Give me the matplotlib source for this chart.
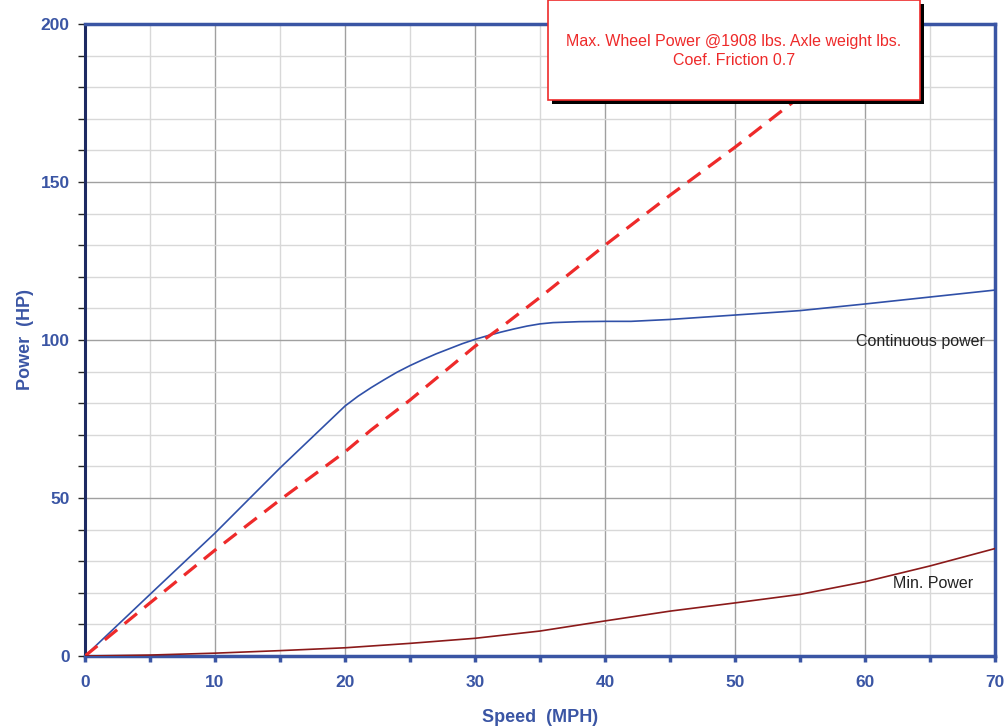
import matplotlib
matplotlib.use("Agg")
import matplotlib.pyplot as plt
from matplotlib.patches import Rectangle
from matplotlib.ticker import MultipleLocator

plt.rcParams["font.family"] = ["Liberation Sans", "DejaVu Sans"]

# Continuous power curve (HP vs MPH)
speed_cont = [0, 5, 10, 15, 20, 21, 22, 23, 24, 25, 26, 27, 28, 29, 30, 31, 32, 33, 34,
              35, 36, 38, 40, 42, 45, 50, 55, 60, 65, 70]
power_cont = [0, 19.5, 38.9, 59.5, 79.1, 82.2, 84.9, 87.4, 89.8, 91.9, 93.8, 95.6, 97.2,
              98.8, 100.2, 101.4, 102.5, 103.5, 104.4, 105.1, 105.5, 105.8, 105.9, 105.9,
              106.5, 107.9, 109.3, 111.4, 113.6, 115.8]

# Max wheel power (traction limit)
speed_max = [0, 5, 10, 15, 20, 22, 25, 30, 32, 35, 40, 45, 50, 55, 62]
power_max = [0, 16.8, 33.5, 49.4, 64.6, 71.5, 81.0, 98.0, 104.0, 113.5, 130.0, 145.8,
             161.0, 177.0, 200.0]

# Minimum power curve
speed_min = [0, 5, 10, 15, 20, 25, 30, 35, 40, 45, 50, 55, 60, 65, 70]
power_min = [0, 0.3, 0.9, 1.7, 2.6, 4.0, 5.6, 7.9, 11.1, 14.2, 16.8, 19.5, 23.5, 28.5, 34.0]

BLUE = "#3a55a4"
NAVY = "#1e2a62"

fig = plt.figure(figsize=(10.08, 7.27), dpi=100)
ax = fig.add_axes([85 / 1008, 71 / 727, 910 / 1008, 632 / 727])

ax.plot(speed_cont, power_cont, color="#3050a8", lw=1.2, zorder=3)
ax.plot(speed_max, power_max, color="#ee2a2a", lw=2.3, dashes=(5, 3), zorder=3)
ax.plot(speed_min, power_min, color="#8b1a1a", lw=1.2, zorder=3)

ax.set_xlim(0, 70)
ax.set_ylim(0, 200)
ax.xaxis.set_major_locator(MultipleLocator(10))
ax.xaxis.set_minor_locator(MultipleLocator(5))
ax.yaxis.set_major_locator(MultipleLocator(50))
ax.yaxis.set_minor_locator(MultipleLocator(10))

ax.grid(which="major", color="#a0a0a0", lw=1.0, zorder=0)
ax.grid(which="minor", color="#d8d8d8", lw=1.0, zorder=0)
ax.set_axisbelow(True)

for side in ["top", "right", "bottom"]:
    ax.spines[side].set_color(BLUE)
    ax.spines[side].set_linewidth(2.5)
ax.spines["left"].set_color(NAVY)
ax.spines["left"].set_linewidth(2.2)

ax.tick_params(axis="x", which="both", direction="out", length=4, width=2.5,
               color=BLUE, labelcolor=BLUE, pad=10, labelsize=12.5)
ax.tick_params(axis="y", which="both", direction="out", length=5, width=1,
               color="#222222", labelcolor=BLUE, pad=6, labelsize=12.5)
for lbl in ax.get_xticklabels() + ax.get_yticklabels():
    lbl.set_fontweight("bold")

ax.set_xlabel("Speed  (MPH)", color=BLUE, fontsize=13, fontweight="bold", labelpad=13)
ax.set_ylabel("Power  (HP)", color=BLUE, fontsize=13, fontweight="bold", labelpad=5)

ax.text(64.3, 99.4, "Continuous power", color="#222222", fontsize=11.5,
        ha="center", va="center", zorder=4)
ax.text(65.2, 22.8, "Min. Power", color="#222222", fontsize=11.5,
        ha="center", va="center", zorder=4)

# annotation box with drop shadow, in figure pixels
bx, by, bw, bh = 548, 627, 372, 100
fig.patches.append(Rectangle(((bx + 4) / 1008, (by - 4) / 727), bw / 1008, bh / 727,
                             transform=fig.transFigure, facecolor="black",
                             edgecolor="none", zorder=5))
fig.patches.append(Rectangle((bx / 1008, by / 727), bw / 1008, bh / 727,
                             transform=fig.transFigure, facecolor="white",
                             edgecolor="#ee2a2a", lw=1.2, zorder=6))
fig.text((bx + bw / 2) / 1008, 1 - 51 / 727,
         "Max. Wheel Power @1908 lbs. Axle weight lbs.\nCoef. Friction 0.7",
         color="#ee2a2a", fontsize=11.5, ha="center", va="center",
         linespacing=1.3, zorder=7)

fig.savefig("out.png", dpi=100)
